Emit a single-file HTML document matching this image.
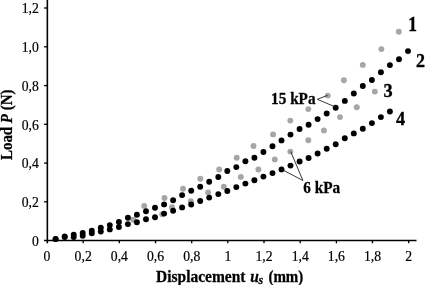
<!DOCTYPE html>
<html><head><meta charset="utf-8"><title>Load vs displacement</title>
<style>html,body{margin:0;padding:0;background:#fff}svg{display:block}text{font-family:"Liberation Serif","Times New Roman",serif;fill:#000}</style></head>
<body>
<svg width="425" height="285" viewBox="0 0 425 285">
<rect width="425" height="285" fill="#fff"/>
<g fill="#a6a6a6">
<circle cx="144.2" cy="205.9" r="2.95"/>
<circle cx="164.5" cy="198.0" r="2.95"/>
<circle cx="183.0" cy="188.7" r="2.95"/>
<circle cx="200.3" cy="178.8" r="2.95"/>
<circle cx="219.2" cy="169.5" r="2.95"/>
<circle cx="236.7" cy="157.7" r="2.95"/>
<circle cx="253.5" cy="146.0" r="2.95"/>
<circle cx="273.1" cy="134.4" r="2.95"/>
<circle cx="290.3" cy="120.6" r="2.95"/>
<circle cx="308.3" cy="109.1" r="2.95"/>
<circle cx="327.8" cy="95.6" r="2.95"/>
<circle cx="343.9" cy="80.3" r="2.95"/>
<circle cx="362.8" cy="64.9" r="2.95"/>
<circle cx="381.4" cy="49.1" r="2.95"/>
<circle cx="398.8" cy="31.8" r="2.95"/>
<circle cx="133.2" cy="219.8" r="2.95"/>
<circle cx="162.2" cy="214.2" r="2.95"/>
<circle cx="172.0" cy="207.3" r="2.95"/>
<circle cx="190.8" cy="201.3" r="2.95"/>
<circle cx="208.1" cy="192.5" r="2.95"/>
<circle cx="223.8" cy="186.7" r="2.95"/>
<circle cx="240.8" cy="176.9" r="2.95"/>
<circle cx="258.4" cy="169.5" r="2.95"/>
<circle cx="274.8" cy="159.4" r="2.95"/>
<circle cx="290.3" cy="151.6" r="2.95"/>
<circle cx="308.3" cy="140.3" r="2.95"/>
<circle cx="323.9" cy="130.4" r="2.95"/>
<circle cx="340.0" cy="117.1" r="2.95"/>
<circle cx="356.8" cy="107.2" r="2.95"/>
<circle cx="374.8" cy="91.6" r="2.95"/>
</g>
<g fill="#000">
<circle cx="55.6" cy="238.9" r="2.95"/>
<circle cx="64.7" cy="236.4" r="2.95"/>
<circle cx="73.7" cy="234.8" r="2.95"/>
<circle cx="82.7" cy="232.9" r="2.95"/>
<circle cx="91.8" cy="230.7" r="2.95"/>
<circle cx="100.8" cy="227.8" r="2.95"/>
<circle cx="109.8" cy="225.1" r="2.95"/>
<circle cx="118.9" cy="222.0" r="2.95"/>
<circle cx="127.9" cy="217.7" r="2.95"/>
<circle cx="136.9" cy="214.8" r="2.95"/>
<circle cx="146.0" cy="211.3" r="2.95"/>
<circle cx="155.0" cy="207.8" r="2.95"/>
<circle cx="164.1" cy="204.4" r="2.95"/>
<circle cx="173.1" cy="200.3" r="2.95"/>
<circle cx="182.1" cy="195.1" r="2.95"/>
<circle cx="191.2" cy="190.7" r="2.95"/>
<circle cx="200.2" cy="186.7" r="2.95"/>
<circle cx="209.2" cy="181.7" r="2.95"/>
<circle cx="218.3" cy="177.0" r="2.95"/>
<circle cx="227.3" cy="171.0" r="2.95"/>
<circle cx="236.3" cy="167.1" r="2.95"/>
<circle cx="245.4" cy="161.3" r="2.95"/>
<circle cx="254.4" cy="157.8" r="2.95"/>
<circle cx="263.4" cy="152.0" r="2.95"/>
<circle cx="272.5" cy="146.2" r="2.95"/>
<circle cx="281.5" cy="140.4" r="2.95"/>
<circle cx="290.5" cy="134.6" r="2.95"/>
<circle cx="299.6" cy="129.0" r="2.95"/>
<circle cx="308.6" cy="124.7" r="2.95"/>
<circle cx="317.6" cy="119.1" r="2.95"/>
<circle cx="326.7" cy="113.5" r="2.95"/>
<circle cx="335.7" cy="107.7" r="2.95"/>
<circle cx="344.8" cy="100.9" r="2.95"/>
<circle cx="353.8" cy="93.5" r="2.95"/>
<circle cx="362.8" cy="86.0" r="2.95"/>
<circle cx="371.9" cy="80.0" r="2.95"/>
<circle cx="380.9" cy="72.2" r="2.95"/>
<circle cx="389.9" cy="65.1" r="2.95"/>
<circle cx="399.0" cy="59.2" r="2.95"/>
<circle cx="408.0" cy="51.1" r="2.95"/>
<circle cx="55.6" cy="239.1" r="2.95"/>
<circle cx="64.7" cy="237.1" r="2.95"/>
<circle cx="73.7" cy="237.1" r="2.95"/>
<circle cx="82.7" cy="235.8" r="2.95"/>
<circle cx="91.8" cy="233.2" r="2.95"/>
<circle cx="100.8" cy="231.5" r="2.95"/>
<circle cx="109.8" cy="229.4" r="2.95"/>
<circle cx="118.9" cy="227.0" r="2.95"/>
<circle cx="127.9" cy="224.1" r="2.95"/>
<circle cx="136.9" cy="222.2" r="2.95"/>
<circle cx="146.0" cy="219.3" r="2.95"/>
<circle cx="155.0" cy="217.3" r="2.95"/>
<circle cx="164.1" cy="213.6" r="2.95"/>
<circle cx="173.1" cy="210.7" r="2.95"/>
<circle cx="182.1" cy="207.4" r="2.95"/>
<circle cx="191.2" cy="204.5" r="2.95"/>
<circle cx="200.2" cy="201.0" r="2.95"/>
<circle cx="209.2" cy="197.6" r="2.95"/>
<circle cx="218.3" cy="194.1" r="2.95"/>
<circle cx="227.3" cy="191.0" r="2.95"/>
<circle cx="236.3" cy="187.1" r="2.95"/>
<circle cx="245.4" cy="183.6" r="2.95"/>
<circle cx="254.4" cy="180.3" r="2.95"/>
<circle cx="263.4" cy="176.6" r="2.95"/>
<circle cx="272.5" cy="173.1" r="2.95"/>
<circle cx="281.5" cy="169.4" r="2.95"/>
<circle cx="290.5" cy="165.6" r="2.95"/>
<circle cx="299.6" cy="161.5" r="2.95"/>
<circle cx="308.6" cy="158.0" r="2.95"/>
<circle cx="317.6" cy="153.5" r="2.95"/>
<circle cx="326.7" cy="148.7" r="2.95"/>
<circle cx="335.7" cy="144.2" r="2.95"/>
<circle cx="344.8" cy="138.2" r="2.95"/>
<circle cx="353.8" cy="133.4" r="2.95"/>
<circle cx="362.8" cy="128.7" r="2.95"/>
<circle cx="371.9" cy="123.1" r="2.95"/>
<circle cx="380.9" cy="117.1" r="2.95"/>
<circle cx="389.9" cy="111.5" r="2.95"/>
</g>
<g stroke="#000" fill="none">
<line x1="47.35" y1="0" x2="47.35" y2="243.29999999999998" stroke-width="1.6"/>
<line x1="44.050000000000004" y1="240.6" x2="416.5" y2="240.6" stroke-width="1.5"/>
<line x1="44.050000000000004" y1="201.8" x2="47.35" y2="201.8" stroke-width="1.3"/>
<line x1="44.050000000000004" y1="163.1" x2="47.35" y2="163.1" stroke-width="1.3"/>
<line x1="44.050000000000004" y1="124.3" x2="47.35" y2="124.3" stroke-width="1.3"/>
<line x1="44.050000000000004" y1="85.6" x2="47.35" y2="85.6" stroke-width="1.3"/>
<line x1="44.050000000000004" y1="46.8" x2="47.35" y2="46.8" stroke-width="1.3"/>
<line x1="44.050000000000004" y1="8.0" x2="47.35" y2="8.0" stroke-width="1.3"/>
<line x1="83.2" y1="240.6" x2="83.2" y2="243.29999999999998" stroke-width="1.3"/>
<line x1="119.3" y1="240.6" x2="119.3" y2="243.29999999999998" stroke-width="1.3"/>
<line x1="155.5" y1="240.6" x2="155.5" y2="243.29999999999998" stroke-width="1.3"/>
<line x1="191.7" y1="240.6" x2="191.7" y2="243.29999999999998" stroke-width="1.3"/>
<line x1="227.8" y1="240.6" x2="227.8" y2="243.29999999999998" stroke-width="1.3"/>
<line x1="264.0" y1="240.6" x2="264.0" y2="243.29999999999998" stroke-width="1.3"/>
<line x1="300.2" y1="240.6" x2="300.2" y2="243.29999999999998" stroke-width="1.3"/>
<line x1="336.4" y1="240.6" x2="336.4" y2="243.29999999999998" stroke-width="1.3"/>
<line x1="372.5" y1="240.6" x2="372.5" y2="243.29999999999998" stroke-width="1.3"/>
<line x1="408.7" y1="240.6" x2="408.7" y2="243.29999999999998" stroke-width="1.3"/>
</g>
<g stroke="#222" stroke-width="0.9" fill="none">
<polyline points="327.6,95.4 317.3,99.3 335.5,107.0"/>
<polyline points="290.7,151.5 302.9,180.5 281.4,169.2"/>
</g>
<g font-size="13.7px" stroke="#000" stroke-width="0.2">
<text transform="translate(38.80,245.90) scale(1,1.07)" text-anchor="end">0</text>
<text transform="translate(38.80,207.14) scale(1,1.07)" text-anchor="end">0,2</text>
<text transform="translate(38.80,168.38) scale(1,1.07)" text-anchor="end">0,4</text>
<text transform="translate(38.80,129.62) scale(1,1.07)" text-anchor="end">0,6</text>
<text transform="translate(38.80,90.86) scale(1,1.07)" text-anchor="end">0,8</text>
<text transform="translate(38.80,52.10) scale(1,1.07)" text-anchor="end">1,0</text>
<text transform="translate(38.80,13.34) scale(1,1.07)" text-anchor="end">1,2</text>
<text transform="translate(47.00,260.90) scale(1,1.07)" text-anchor="middle">0</text>
<text transform="translate(83.17,260.90) scale(1,1.07)" text-anchor="middle">0,2</text>
<text transform="translate(119.34,260.90) scale(1,1.07)" text-anchor="middle">0,4</text>
<text transform="translate(155.51,260.90) scale(1,1.07)" text-anchor="middle">0,6</text>
<text transform="translate(191.68,260.90) scale(1,1.07)" text-anchor="middle">0,8</text>
<text transform="translate(227.85,260.90) scale(1,1.07)" text-anchor="middle">1</text>
<text transform="translate(264.02,260.90) scale(1,1.07)" text-anchor="middle">1,2</text>
<text transform="translate(300.19,260.90) scale(1,1.07)" text-anchor="middle">1,4</text>
<text transform="translate(336.36,260.90) scale(1,1.07)" text-anchor="middle">1,6</text>
<text transform="translate(372.53,260.90) scale(1,1.07)" text-anchor="middle">1,8</text>
<text transform="translate(408.70,260.90) scale(1,1.07)" text-anchor="middle">2</text>
</g>
<g font-size="15.5px" font-weight="bold" stroke="#000" stroke-width="0.25">
<text transform="translate(156.00,281.50) scale(1,1.09)">Displacement</text>
<text transform="translate(250.30,281.50) scale(1,1.09)" font-style="italic">u</text>
<text transform="translate(258.60,284.30) scale(1,1.09)" font-style="italic" font-size="12px">s</text>
<text transform="translate(268.40,281.50) scale(1,1.09)" font-size="15px">(mm)</text>
<text transform="translate(11.6,124.8) rotate(-90) scale(1,1.07)" text-anchor="middle" font-size="14.9px">Load <tspan font-style="italic">P</tspan> (N)</text>
</g>
<g font-size="19px" font-weight="bold" stroke="#000" stroke-width="0.35">
<text transform="translate(408.30,30.60) scale(1,1.19)" font-size="17.4px">1</text>
<text transform="translate(415.90,66.60) scale(1,1.08)" font-size="18px">2</text>
<text transform="translate(383.50,97.30) scale(1,1.06)" font-size="18.3px">3</text>
<text transform="translate(395.90,125.00) scale(1,1.06)" font-size="18.3px">4</text>
</g>
<g font-size="15.25px" font-weight="bold" stroke="#000" stroke-width="0.25">
<text transform="translate(271.10,103.90) scale(1,1.09)">15 kPa</text>
<text transform="translate(303.30,192.80) scale(1,1.09)">6 kPa</text>
</g>
</svg>
</body></html>
